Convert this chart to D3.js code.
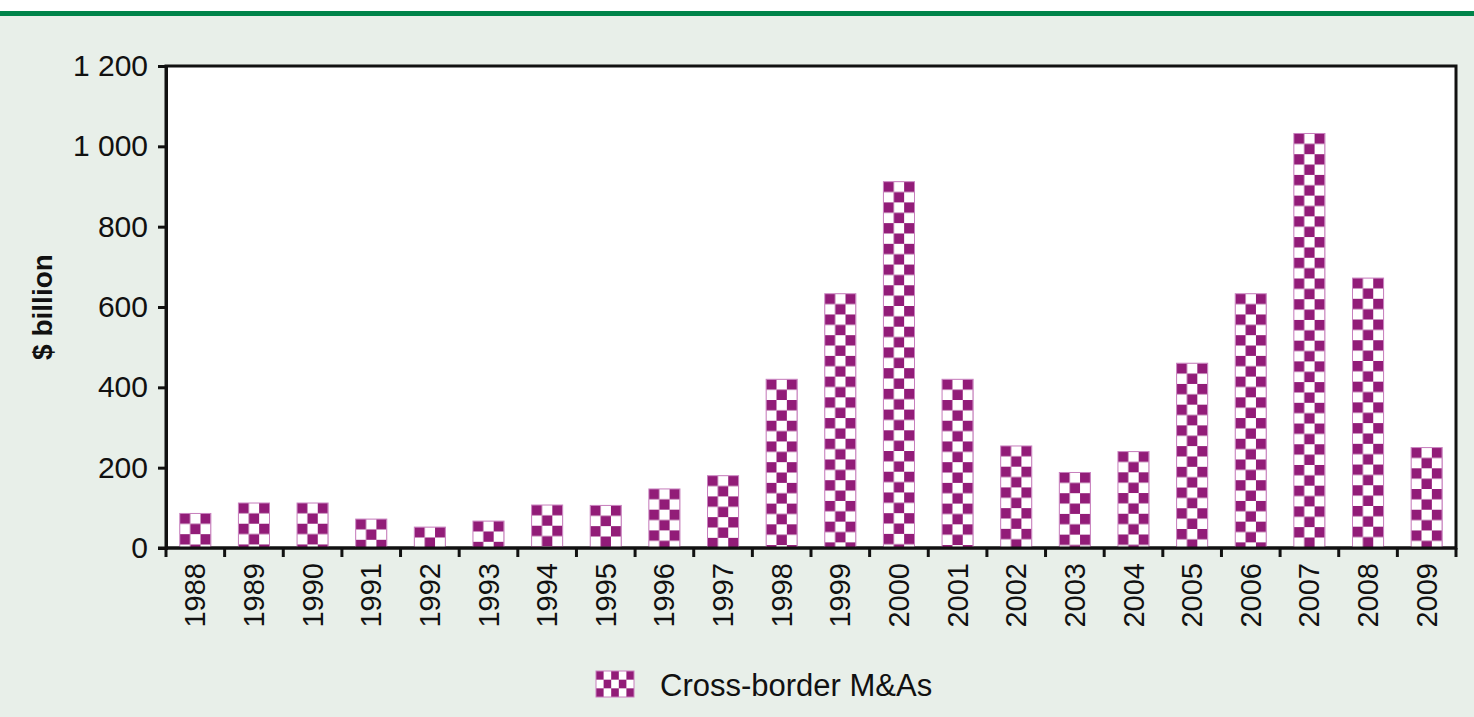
<!DOCTYPE html>
<html>
<head>
<meta charset="utf-8">
<script src="https://cdn.jsdelivr.net/npm/d3@7"></script>
<style>
  body { margin: 0; background: #fff; }
  svg { display: block; font-family: "Liberation Sans", Arial, sans-serif; }
</style>
</head>
<body>
<div id="chart"></div>
<script>
// data
let years = ['1988','1989','1990','1991','1992','1993','1994','1995','1996','1997','1998',
  '1999','2000','2001','2002','2003','2004','2005','2006','2007','2008','2009']
let values = [86, 112, 112, 72, 52, 67, 107, 106, 147, 180, 420,
  633, 912, 420, 254, 188, 240, 460, 633, 1032, 672, 250]
let yTicks = [0, 200, 400, 600, 800, 1000, 1200]
let seriesName = 'Cross-border M&As'

let width = 1474, height = 717
let margin = {top: 66, right: 18, bottom: 169, left: 166}
let purple = '#921c78'

let svg = d3.select('#chart').append('svg')
  .attr('width', width)
  .attr('height', height)

// background + green top rule
svg.append('rect').attr('width', width).attr('height', height).attr('fill', '#e8efe9')
svg.append('rect').attr('width', width).attr('height', 11).attr('fill', '#fff')
svg.append('rect').attr('y', 11).attr('width', width).attr('height', 5).attr('fill', '#00844a')

let x = d3.scaleBand()
  .domain(years)
  .range([margin.left, width - margin.right])
  .paddingInner(0.47)
  .paddingOuter(0.235)

let y = d3.scaleLinear()
  .domain([0, 1200])
  .range([height - margin.bottom, margin.top])

let fmt = d3.formatLocale({decimal: '.', thousands: ' ', grouping: [3], currency: ['$', '']}).format(',')

// plot area
svg.append('rect')
  .attr('x', margin.left).attr('y', margin.top)
  .attr('width', width - margin.left - margin.right)
  .attr('height', height - margin.top - margin.bottom)
  .attr('fill', '#fff')
  .attr('stroke', '#111')
  .attr('stroke-width', 3)

// checker patterns, one per bar so each starts at its own left edge
let defs = svg.append('defs')
let cell = x.bandwidth() / 3
let pats = defs.selectAll('pattern.chk')
  .data(years)
  .enter().append('pattern')
  .attr('class', 'chk')
  .attr('id', (d, i) => 'chk' + i)
  .attr('patternUnits', 'userSpaceOnUse')
  .attr('x', d => x(d))
  .attr('y', (d, i) => y(values[i]))
  .attr('width', cell * 2)
  .attr('height', cell * 2)
pats.append('rect').attr('width', cell * 2).attr('height', cell * 2).attr('fill', '#fff')
pats.append('rect').attr('width', cell).attr('height', cell).attr('fill', purple)
pats.append('rect').attr('x', cell).attr('y', cell).attr('width', cell).attr('height', cell).attr('fill', purple)

// bars
svg.selectAll('rect.mabar')
  .data(values)
  .enter().append('rect')
  .attr('class', 'mabar')
  .attr('x', (d, i) => x(years[i]))
  .attr('y', d => y(d))
  .attr('width', x.bandwidth())
  .attr('height', d => y(0) - y(d))
  .attr('fill', (d, i) => 'url(#chk' + i + ')')
  .attr('stroke', '#c77fbd')
  .attr('stroke-width', 1)

// y axis
let yAxis = svg.append('g')
  .attr('transform', 'translate(' + margin.left + ',0)')
  .call(d3.axisLeft(y).tickValues(yTicks).tickFormat(fmt).tickSize(8).tickPadding(10))
yAxis.select('.domain').attr('stroke', '#111').attr('stroke-width', 3)
yAxis.selectAll('line').attr('stroke', '#111').attr('stroke-width', 3)
yAxis.selectAll('text').attr('font-size', 30).attr('fill', '#111')
  .attr('font-family', '"Liberation Sans", Arial, sans-serif')

// x axis: ticks sit on band boundaries
let x0 = y(0)
let bounds = years.map(d => x(d) - x.step() * x.paddingInner() / 2)
bounds.push(width - margin.right)
bounds[0] = margin.left
svg.append('line')
  .attr('x1', margin.left - 8).attr('x2', width - margin.right)
  .attr('y1', x0).attr('y2', x0)
  .attr('stroke', '#111').attr('stroke-width', 3)
svg.selectAll('.xtick')
  .data(bounds)
  .enter().append('line')
  .attr('class', 'xtick')
  .attr('x1', d => d).attr('x2', d => d)
  .attr('y1', x0).attr('y2', x0 + 9)
  .attr('stroke', '#111').attr('stroke-width', 3)
svg.selectAll('.xlabel')
  .data(years)
  .enter().append('text')
  .attr('class', 'xlabel')
  .attr('transform', d => 'translate(' + (x(d) + x.bandwidth() / 2 + 10) + ',' + (x0 + 15) + ') rotate(-90)')
  .attr('text-anchor', 'end')
  .attr('font-size', 29)
  .attr('fill', '#111')
  .text(d => d)

// y axis title
svg.append('text')
  .attr('transform', 'translate(52,' + ((margin.top + x0) / 2) + ') rotate(-90)')
  .attr('text-anchor', 'middle')
  .attr('font-size', 28)
  .attr('font-weight', 'bold')
  .attr('fill', '#111')
  .text('$ billion')

// legend
let lc = 38 / 5
let lp = defs.append('pattern')
  .attr('id', 'legchk')
  .attr('patternUnits', 'userSpaceOnUse')
  .attr('x', 596).attr('y', 671)
  .attr('width', lc * 2).attr('height', 26 / 3 * 2)
lp.append('rect').attr('width', lc * 2).attr('height', 26 / 3 * 2).attr('fill', '#fff')
lp.append('rect').attr('width', lc).attr('height', 26 / 3).attr('fill', purple)
lp.append('rect').attr('x', lc).attr('y', 26 / 3).attr('width', lc).attr('height', 26 / 3).attr('fill', purple)
svg.append('rect')
  .attr('x', 596).attr('y', 671).attr('width', 38).attr('height', 26)
  .attr('fill', 'url(#legchk)')
  .attr('stroke', '#c77fbd').attr('stroke-width', 1)
svg.append('text')
  .attr('x', 660).attr('y', 696)
  .attr('font-size', 31)
  .attr('fill', '#111')
  .text(seriesName)
</script>
</body>
</html>
